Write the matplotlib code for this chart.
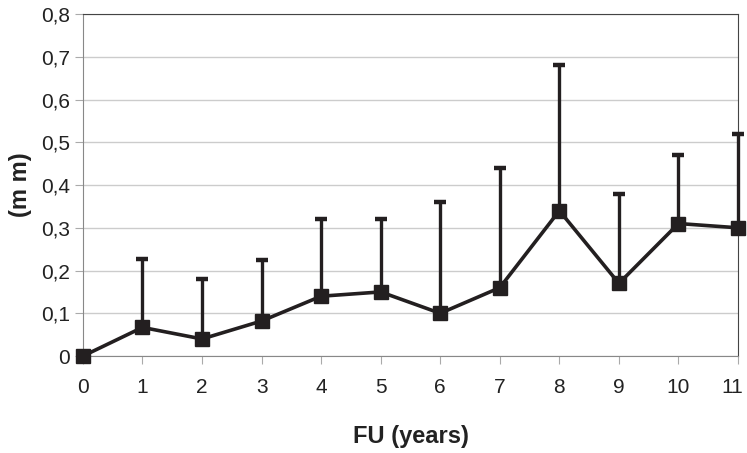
import matplotlib
matplotlib.use("Agg")
import matplotlib.pyplot as plt
from matplotlib import font_manager
from matplotlib.ticker import FuncFormatter
from matplotlib.transforms import ScaledTranslation

years = [0, 1, 2, 3, 4, 5, 6, 7, 8, 9, 10, 11]
mean_mm = [0.0, 0.067, 0.04, 0.082, 0.14, 0.15, 0.10, 0.16, 0.34, 0.17, 0.31, 0.30]
upper_mm = [0.0, 0.227, 0.18, 0.224, 0.32, 0.32, 0.36, 0.44, 0.68, 0.38, 0.47, 0.52]
y_ticks = [0, 0.1, 0.2, 0.3, 0.4, 0.5, 0.6, 0.7, 0.8]

names = {f.name for f in font_manager.fontManager.ttflist}
fam = "Liberation Sans Narrow" if "Liberation Sans Narrow" in names else "Liberation Sans"
plt.rcParams["font.family"] = [fam, "DejaVu Sans"]

fig = plt.figure(figsize=(7.47, 4.53), dpi=100)
ax = fig.add_axes([0.111, 0.214, 0.877, 0.755])

err_up = [u - m for u, m in zip(upper_mm, mean_mm)]
err_lo = [0] * len(mean_mm)
ax.errorbar(years, mean_mm, yerr=[err_lo, err_up], color="#231f20", lw=2.6,
            marker="s", ms=10.5, elinewidth=2.4, capsize=4, capthick=3.2,
            clip_on=False, zorder=3)

ax.set_xlim(0, 11)
ax.set_ylim(0, 0.8)
ax.set_xticks(years)
ax.set_yticks(y_ticks)
ax.yaxis.set_major_formatter(FuncFormatter(lambda v, p: "0" if v == 0 else f"{v:.1f}".replace(".", ",")))
ax.grid(axis="y", color="#cccccc", lw=1)
ax.set_axisbelow(True)
for s in ["left", "bottom"]:
    ax.spines[s].set_color("#888888")
for s in ["top", "right"]:
    ax.spines[s].set_color("#444444")
ax.tick_params(axis="both", colors="#aaaaaa", labelcolor="#222222", labelsize=15, length=6)
ax.tick_params(axis="x", pad=10)
ax.set_xlabel("FU (years)", fontsize=17, fontweight="bold", color="#222222", labelpad=20)
ax.set_ylabel("(m m)", fontsize=17, fontweight="bold", color="#222222", labelpad=6)

fig.canvas.draw()
last = ax.get_xticklabels()[-1]
last.set_transform(last.get_transform() + ScaledTranslation(-4 / 72, 0, fig.dpi_scale_trans))

fig.savefig("out.png", dpi=100)
